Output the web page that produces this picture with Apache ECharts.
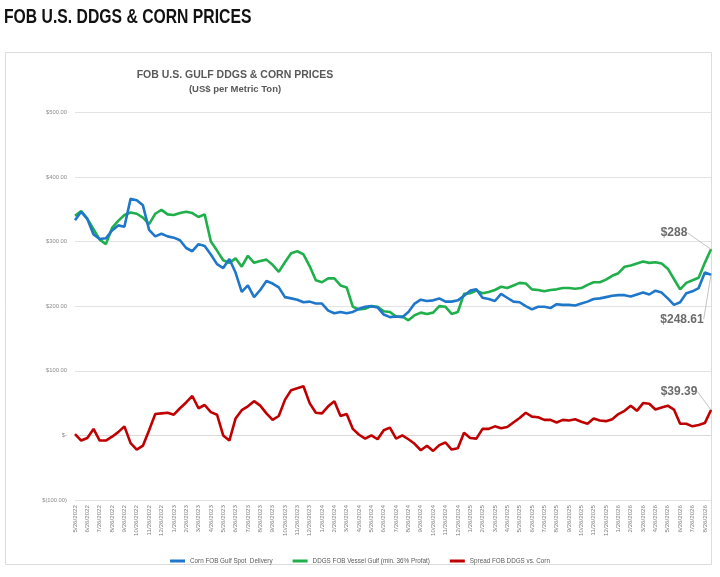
<!DOCTYPE html>
<html>
<head>
<meta charset="utf-8">
<script src="https://cdn.jsdelivr.net/npm/echarts@6/dist/echarts.min.js"></script>
<style>
  html, body { margin: 0; padding: 0; background: #fff; }
  #wrap { position: relative; width: 720px; height: 577px; }
  #chart { width: 720px; height: 577px; }
  #pageTitle {
    position: absolute; left: 4px; top: 4px; margin: 0;
    font-family: 'Liberation Sans', Arial, sans-serif; font-weight: bold;
    font-size: 19.5px; line-height: 24px; color: #111;
    transform: scaleX(0.807); transform-origin: left top; white-space: nowrap;
  }
</style>
</head>
<body>
<div id="wrap">
  <div id="chart"></div>
  <h1 id="pageTitle">FOB U.S. DDGS &amp; CORN PRICES</h1>
</div>
<script>
// month tick labels along the bottom
const monthLabels = [
  "5/26/2022", "6/26/2022", "7/26/2022", "8/26/2022", "9/26/2022", "10/26/2022", "11/26/2022", "12/26/2022",
  "1/26/2023", "2/26/2023", "3/26/2023", "4/26/2023", "5/26/2023", "6/26/2023", "7/26/2023", "8/26/2023",
  "9/26/2023", "10/26/2023", "11/26/2023", "12/26/2023",
  "1/26/2024", "2/26/2024", "3/26/2024", "4/26/2024", "5/26/2024", "6/26/2024", "7/26/2024", "8/26/2024",
  "9/26/2024", "10/26/2024", "11/26/2024", "12/26/2024",
  "1/26/2025", "2/26/2025", "3/26/2025", "4/26/2025", "5/26/2025", "6/26/2025", "7/26/2025", "8/26/2025",
  "9/26/2025", "10/26/2025", "11/26/2025", "12/26/2025",
  "1/26/2026", "2/26/2026", "3/26/2026", "4/26/2026", "5/26/2026", "6/26/2026", "7/26/2026", "8/26/2026"
];

const yTickLabels = ["$(100.00)", "$-", "$100.00", "$200.00", "$300.00", "$400.00", "$500.00"];

// half-month readings, US$ per metric ton
const corn = [
  333, 346, 335, 311, 304, 305, 317, 325, 323, 366, 364, 356, 318, 308, 312, 308,
  306, 302, 290, 285, 296, 293, 280, 265, 259, 273, 252, 222, 232, 214, 225, 239,
  235, 229, 214, 212, 210, 206, 207, 204, 204, 193, 189, 191, 189, 191, 196, 199,
  200, 198, 187, 183, 184, 183, 191, 204, 210, 208, 209, 212, 207, 207, 209, 216,
  224, 226, 213, 211, 208, 219, 213, 207, 206, 200, 195, 199, 199, 197, 203, 202,
  202, 201, 204, 207, 211, 212, 214, 216, 217, 217, 215, 218, 221, 218, 224, 221,
  212, 202, 206, 220, 223, 228, 252, 248.61
];

const ddgs = [
  340, 347, 335, 319, 303, 296, 321, 332, 341, 345, 343, 337, 327, 343, 349, 342,
  341, 344, 346, 344, 338, 342, 300, 286, 271, 267, 274, 261, 278, 267, 270, 272,
  264, 253, 268, 282, 285, 280, 262, 240, 237, 243, 243, 232, 229, 199, 195, 196,
  200, 199, 192, 191, 184, 184, 178, 186, 190, 188, 190, 200, 199, 188, 191, 219,
  220, 224, 220, 222, 225, 230, 228, 232, 236, 235, 226, 225, 223, 225, 226, 228,
  228, 227, 228, 233, 237, 237, 241, 247, 251, 261, 263, 266, 269, 267, 268, 266,
  258, 242, 226, 236, 240, 244, 267, 288
];

const spread = [
  2, -8, -4, 10, -8, -8, -2, 5, 14, -12, -22, -16, 8, 33, 34, 35,
  32, 42, 51, 61, 42, 47, 36, 32, 0, -8, 26, 39, 45, 53, 46, 34,
  24, 30, 55, 70, 73, 76, 50, 35, 34, 45, 53, 30, 33, 10, 1, -5,
  0, -6, 8, 12, -5, 0, -6, -13, -23, -16, -24, -15, -11, -22, -20, 4,
  -4, -5, 10, 10, 14, 11, 13, 20, 27, 35, 29, 28, 24, 24, 20, 24,
  23, 25, 21, 18, 26, 23, 22, 25, 33, 38, 46, 38, 50, 49, 40, 43,
  46, 40, 18, 18, 14, 16, 19, 39.39
];

const seriesNames = [
  "Corn FOB Gulf Spot  Delivery",
  "DDGS FOB Vessel Gulf (min. 36% Profat)",
  "Spread FOB DDGS vs. Corn"
];
const seriesColors = ["#1f77c9", "#1fb04c", "#c00000"];

const font = "'Liberation Sans', Arial, sans-serif";

// one category per half month, labels on the month points only
const categories = [];
for (let i = 0; i < corn.length; i++) {
  categories.push(i % 2 === 0 ? (monthLabels[i / 2] || "") : "");
}

// last point carries the value label with a leader line
const withEndLabel = (values) =>
  values.map((v, i) =>
    i === values.length - 1
      ? { value: v, symbol: "circle", symbolSize: 1, label: { show: true } }
      : v
  );

const makeSeries = (idx, values, shift) => ({
  name: seriesNames[idx],
  type: "line",
  data: withEndLabel(values),
  symbol: "none",
  showSymbol: true,
  lineStyle: { width: 2.6, color: seriesColors[idx] },
  itemStyle: { color: seriesColors[idx] },
  label: {
    show: false,
    position: shift.pos,
    formatter: (p) => "$" + p.value,
    fontFamily: font,
    fontSize: 12,
    fontWeight: "bold",
    color: "#6b6b6b",
  },
  labelLine: { show: true, lineStyle: { color: "#c4c4c4", width: 1 } },
  labelLayout: { dx: shift.dx, dy: shift.dy },
  z: 3 - idx,
});

const chart = echarts.init(document.getElementById("chart"), null, { renderer: "canvas" });

chart.setOption({
  animation: false,
  backgroundColor: "#ffffff",
  title: {
    text: "FOB U.S. GULF DDGS & CORN PRICES",
    subtext: "(US$ per Metric Ton)",
    left: 230,
    top: 65,
    textAlign: "center",
    itemGap: 3,
    textStyle: { fontFamily: font, fontSize: 10.5, fontWeight: "bold", color: "#595959" },
    subtextStyle: { fontFamily: font, fontSize: 9.5, fontWeight: "bold", color: "#595959" },
  },
  graphic: [
    {
      type: "rect",
      shape: { x: 5.5, y: 52.5, width: 706, height: 512 },
      style: { fill: "none", stroke: "#dcdcdc", lineWidth: 1 },
      z: -1,
    },
  ],
  legend: {
    data: seriesNames,
    top: 553,
    left: "center",
    itemWidth: 15,
    itemHeight: 3,
    itemGap: 20,
    icon: "rect",
    textStyle: { fontFamily: font, fontSize: 6.3, color: "#595959" },
  },
  grid: { left: 75, right: 9, top: 112.3, bottom: 77 },
  xAxis: {
    type: "category",
    data: categories,
    boundaryGap: false,
    axisLine: { lineStyle: { color: "#d9d9d9" } },
    axisTick: { show: false },
    axisLabel: {
      interval: 0,
      rotate: 90,
      fontFamily: font,
      fontSize: 6.2,
      color: "#808080",
      margin: 5,
    },
    splitLine: { show: false },
  },
  yAxis: {
    type: "value",
    min: -100,
    max: 500,
    interval: 100,
    axisLine: { show: false },
    axisTick: { show: false },
    axisLabel: {
      fontFamily: font,
      fontSize: 5.8,
      color: "#8c8c8c",
      margin: 8,
      formatter: (v) => yTickLabels[Math.round((v + 100) / 100)],
    },
    splitLine: { lineStyle: { color: "#e3e3e3", width: 1 } },
  },
  series: [
    makeSeries(0, corn, { pos: "bottom", dx: -29, dy: 33 }),
    makeSeries(1, ddgs, { pos: "top", dx: -37, dy: -5 }),
    makeSeries(2, spread, { pos: "top", dx: -32, dy: -7 }),
  ],
});
</script>
</body>
</html>
